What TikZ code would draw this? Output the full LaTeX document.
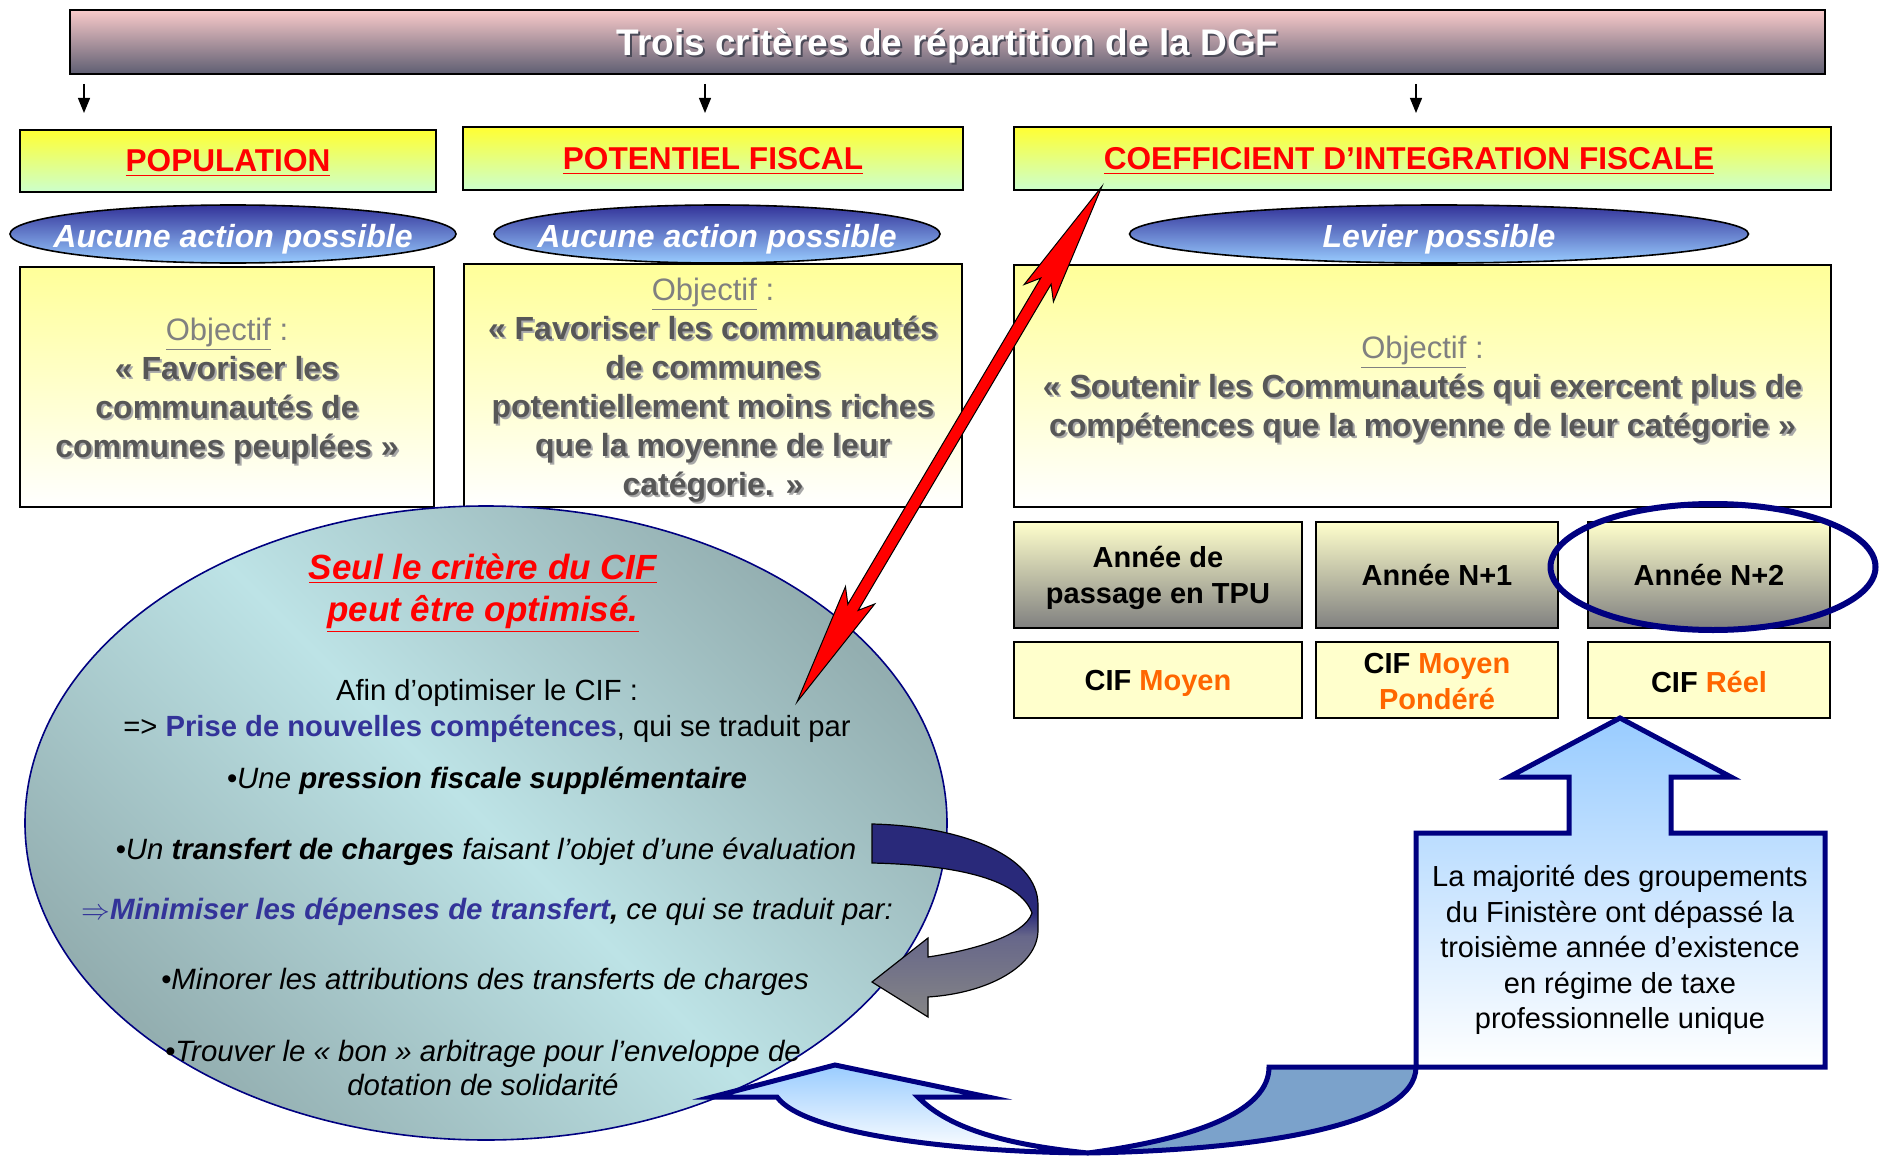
\documentclass[tikz,border=0pt]{standalone}
\usepackage{fontspec}
\setmainfont{Liberation Sans}
\usetikzlibrary{arrows.meta,shapes.geometric,calc}

\definecolor{titreHaut}{HTML}{F9CACA}
\definecolor{titreBas}{HTML}{5E5E72}
\definecolor{titreOmbre}{HTML}{4A4A58}
\definecolor{jaune}{HTML}{FFFF33}
\definecolor{vertPale}{HTML}{CCFFCC}
\definecolor{bleuFonce}{HTML}{333399}
\definecolor{bleuCiel}{HTML}{99CCFF}
\definecolor{jaunePale}{HTML}{FFFF99}
\definecolor{creme}{HTML}{FFFFCC}
\definecolor{grisMoyen}{HTML}{808080}
\definecolor{orangeCIF}{HTML}{FF6600}
\definecolor{marine}{HTML}{000080}
\definecolor{ellClair}{HTML}{BDE3E6}
\definecolor{ellSombre}{HTML}{93AEB0}
\definecolor{acier}{HTML}{7BA2CB}
\definecolor{texteGris}{HTML}{575757}
\definecolor{ombreGris}{HTML}{A8A8A8}
\definecolor{curlNavy}{HTML}{29297A}
\definecolor{curlMauve}{HTML}{67678A}
\definecolor{curlGris}{HTML}{858585}

% degrade de la fleche recourbee
\pgfdeclareverticalshading{boucle}{100bp}{color(0bp)=(curlGris); color(25bp)=(curlGris); color(46bp)=(curlMauve); color(52bp)=(curlNavy); color(100bp)=(curlNavy)}

% texte avec ombre portee : style, couleur ombre, nom, position, texte
\newcommand{\ombre}[5]{%
  \node[#1, text=#2] (#3-ombre) at ($#4+(2,2)$) {#5};
  \node[#1] (#3) at #4 {#5};}

\begin{document}
\begin{tikzpicture}[x=0.5pt, y=-0.5pt,
    titre/.style={draw=black, line width=1pt, top color=titreHaut, bottom color=titreBas, minimum width=877.5pt, minimum height=32pt, inner sep=0pt},
    titretexte/.style={text=white, font=\fontsize{18.5}{22}\selectfont\bfseries},
    descente/.style={-{Triangle[length=7.5pt,width=6pt]}, line width=0.6pt},
    critere/.style={draw=black, line width=1pt, top color=jaune, bottom color=vertPale, minimum height=31pt, inner sep=0pt},
    crittexte/.style={text=red, font=\fontsize{15.8}{19}\selectfont\bfseries},
    levier/.style={ellipse, draw=black, line width=0.8pt, top color=bleuFonce, bottom color=bleuCiel, minimum height=29pt, inner sep=0pt},
    leviertexte/.style={text=white, font=\fontsize{16}{19}\selectfont\bfseries\itshape},
    objectif/.style={draw=black, line width=1pt, top color=jaunePale, bottom color=white, inner sep=0pt},
    objtitre/.style={text=grisMoyen, font=\fontsize{15.5}{19}\selectfont},
    objtexte/.style={text=texteGris, align=center, font=\fontsize{16}{19.5}\selectfont\bfseries},
    annee/.style={draw=black, line width=1pt, top color=creme, bottom color=grisMoyen, minimum height=53pt, inner sep=0pt},
    cifbox/.style={draw=black, line width=1pt, fill=creme, minimum height=38pt, inner sep=0pt},
    boxtexte/.style={align=center, font=\fontsize{14.5}{18}\selectfont\bfseries},
    bulle/.style={ellipse, draw=marine, line width=0.8pt, top color=ellSombre, bottom color=ellSombre, middle color=ellClair, shading angle=-45, minimum width=461pt, minimum height=317pt, inner sep=0pt},
    titrebulle/.style={text=red, align=center, font=\fontsize{17.5}{21}\selectfont\bfseries\itshape},
    corps/.style={align=center, font=\fontsize{14.6}{18}\selectfont},
    corpsit/.style={align=center, font=\fontsize{14.7}{17}\selectfont\itshape},
    encadre/.style={align=center, font=\fontsize{14.5}{17.75}\selectfont},
    contour/.style={draw=marine, line width=2.5pt}]
\useasboundingbox (0,0) rectangle (1880,1156);

% Bandeau du titre
\node[titre] (titre) at (947.5,42) {};
\ombre{titretexte}{titreOmbre}{titreTxt}{(947.5,46)}{Trois critères de répartition de la DGF}

% Fleches vers les trois criteres
\coordinate (c1) at (84,113);
\coordinate (c2) at (705,113);
\coordinate (c3) at (1416,113);
\foreach \c in {c1,c2,c3}
  \draw[descente] ($(titre.south -| \c)+(0,9)$) -- (\c);

% Les trois criteres
\node[critere, minimum width=208pt] (pop) at (228,161) {};
\node[crittexte] (popTxt) at (228,163) {\underline{POPULATION}};
\node[critere, minimum width=250pt] (pot) at (713,158.5) {};
\node[crittexte] (potTxt) at (713,161) {\underline{POTENTIEL FISCAL}};
\node[critere, minimum width=408.5pt] (cif) at (1422.5,158.5) {};
\node[crittexte] (cifTxt) at (1409,161) {\underline{COEFFICIENT D’INTEGRATION FISCALE}};

% Marges de manoeuvre
\node[levier, minimum width=223pt] (ell1) at (233,234) {};
\node[leviertexte] (lev1) at (233,239) {Aucune action possible};
\node[levier, minimum width=223pt] (ell2) at (717,234) {};
\node[leviertexte] (lev2) at (717,239) {Aucune action possible};
\node[levier, minimum width=309.5pt] (ell3) at (1439,234) {};
\node[leviertexte] (lev3) at (1439,239) {Levier possible};

% Objectifs
\node[objectif, minimum width=207pt, minimum height=120pt] (obj1) at (227,387) {};
\node[objtitre] (ot1) at (227,334) {\underline{Objectif} :};
\ombre{objtexte}{ombreGris}{oq1}{(227,410)}{« Favoriser les\\communautés de\\communes peuplées »}

\node[objectif, minimum width=249pt, minimum height=121.5pt] (obj2) at (713,385.5) {};
\node[objtitre] (ot2) at (713,294) {\underline{Objectif} :};
\ombre{objtexte}{ombreGris}{oq2}{(713,409)}{« Favoriser les communautés\\de communes\\potentiellement moins riches\\que la moyenne de leur\\catégorie. »}

\node[objectif, minimum width=408.5pt, minimum height=121pt] (obj3) at (1422.5,386) {};
\node[objtitre] (ot3) at (1422.5,352) {\underline{Objectif} :};
\ombre{objtexte}{ombreGris}{oq3}{(1422.5,409)}{« Soutenir les Communautés qui exercent plus de\\compétences que la moyenne de leur catégorie »}

% Annees et CIF
\node[annee, minimum width=144pt] (an1) at (1158,575) {};
\node[boxtexte] (anTxt1) at (1158,578) {Année de\\passage en TPU};
\node[annee, minimum width=121pt] (an2) at (1437,575) {};
\node[boxtexte] (anTxt2) at (1437,575) {Année N+1};
\node[annee, minimum width=121pt] (an3) at (1709,575) {};
\node[boxtexte] (anTxt3) at (1709,575) {Année N+2};
\node[cifbox, minimum width=144pt] (cif1) at (1158,680) {};
\node[boxtexte] (cifTxt1) at (1158,683) {CIF \textcolor{orangeCIF}{Moyen}};
\node[cifbox, minimum width=121pt] (cif2) at (1437,680) {};
\node[boxtexte] (cifTxt2) at (1437,682) {CIF \textcolor{orangeCIF}{Moyen}\\\textcolor{orangeCIF}{Pondéré}};
\node[cifbox, minimum width=121pt] (cif3) at (1709,680) {};
\node[boxtexte] (cifTxt3) at (1709,682) {CIF \textcolor{orangeCIF}{Réel}};
\node[ellipse, draw=marine, line width=3pt, minimum width=162.5pt, minimum height=63pt, inner sep=0pt] (entoure) at (1713,567) {};

% Bulle d'optimisation
\node[bulle] (bulle) at (486,823) {};
\node[titrebulle] (seul) at (483,593) {\underline{Seul le critère du CIF}\\\underline{peut être optimisé.}};
\node[corps] (afin) at (487,711) {Afin d’optimiser le CIF :\\=> \textbf{\textcolor{bleuFonce}{Prise de nouvelles compétences}}, qui se traduit par};
\node[corpsit] (pression) at (487,781) {•Une \textbf{pression fiscale supplémentaire}};
\node[corpsit] (charges) at (486,852) {•Un \textbf{transfert de charges} faisant l’objet d’une évaluation};
\node[corpsit] (minimiser) at (487,912) {\textcolor{bleuFonce}{$\Rightarrow$\textbf{Minimiser les dépenses de transfert}}\textbf{,} ce qui se traduit par:};
\node[corpsit] (minorer) at (485,982) {•Minorer les attributions des transferts de charges};
\node[corpsit] (trouver) at (483,1068) {•Trouver le « bon » arbitrage pour l’enveloppe de\\dotation de solidarité};

% Fleche recourbee
\draw[line width=0.6pt, shading=boucle] (872,824) .. controls (960,826) and (1038,855) .. (1038,905) -- (1038,930)
  .. controls (1038,965) and (990,993) .. (928,997) -- (928,1017) -- (872,982) -- (928,938) -- (928,957)
  .. controls (975,950) and (1025,935) .. (1032,913) .. controls (1020,880) and (960,865) .. (872,863) -- cycle;

% Double fleche rouge entre le CIF et la bulle
\coordinate (haut) at (1102,186);
\coordinate (bas) at (797,702);
\begin{scope}[shift={(bas)}, rotate=59.4]
  \filldraw[fill=red, draw=black, line width=0.5pt] (0,0) -- (124,17) -- (110,6) -- (489,6) -- (475,17) -- (599,0)
    -- (475,-17) -- (489,-6) -- (110,-6) -- (124,-17) -- cycle;
\end{scope}

% Encadre et fleche vers le CIF reel
\draw[contour, top color=bleuCiel, bottom color=white] (1416,833) -- (1569,833) -- (1569,777) -- (1509,777) -- (1620,718)
  -- (1731,777) -- (1671,777) -- (1671,833) -- (1825,833) -- (1825,1067) -- (1416,1067) -- cycle;
\node[encadre] (majorite) at (1620,950) {La majorité des groupements\\du Finistère ont dépassé la\\troisième année d’existence\\en régime de taxe\\professionnelle unique};

% Fleche en U vers la bulle
\draw[contour, fill=acier] (1269,1067) -- (1416,1067) .. controls (1416,1125) and (1260,1150) .. (1088,1153)
  .. controls (1200,1138) and (1269,1110) .. (1269,1067) -- cycle;
\draw[contour, top color=bleuCiel, bottom color=white] (1088,1153) .. controls (960,1152) and (805,1135) .. (777,1097)
  -- (712,1097) -- (835,1065) -- (988,1097) -- (918,1097) .. controls (950,1130) and (1010,1145) .. (1088,1153) -- cycle;
\end{tikzpicture}
\end{document}
